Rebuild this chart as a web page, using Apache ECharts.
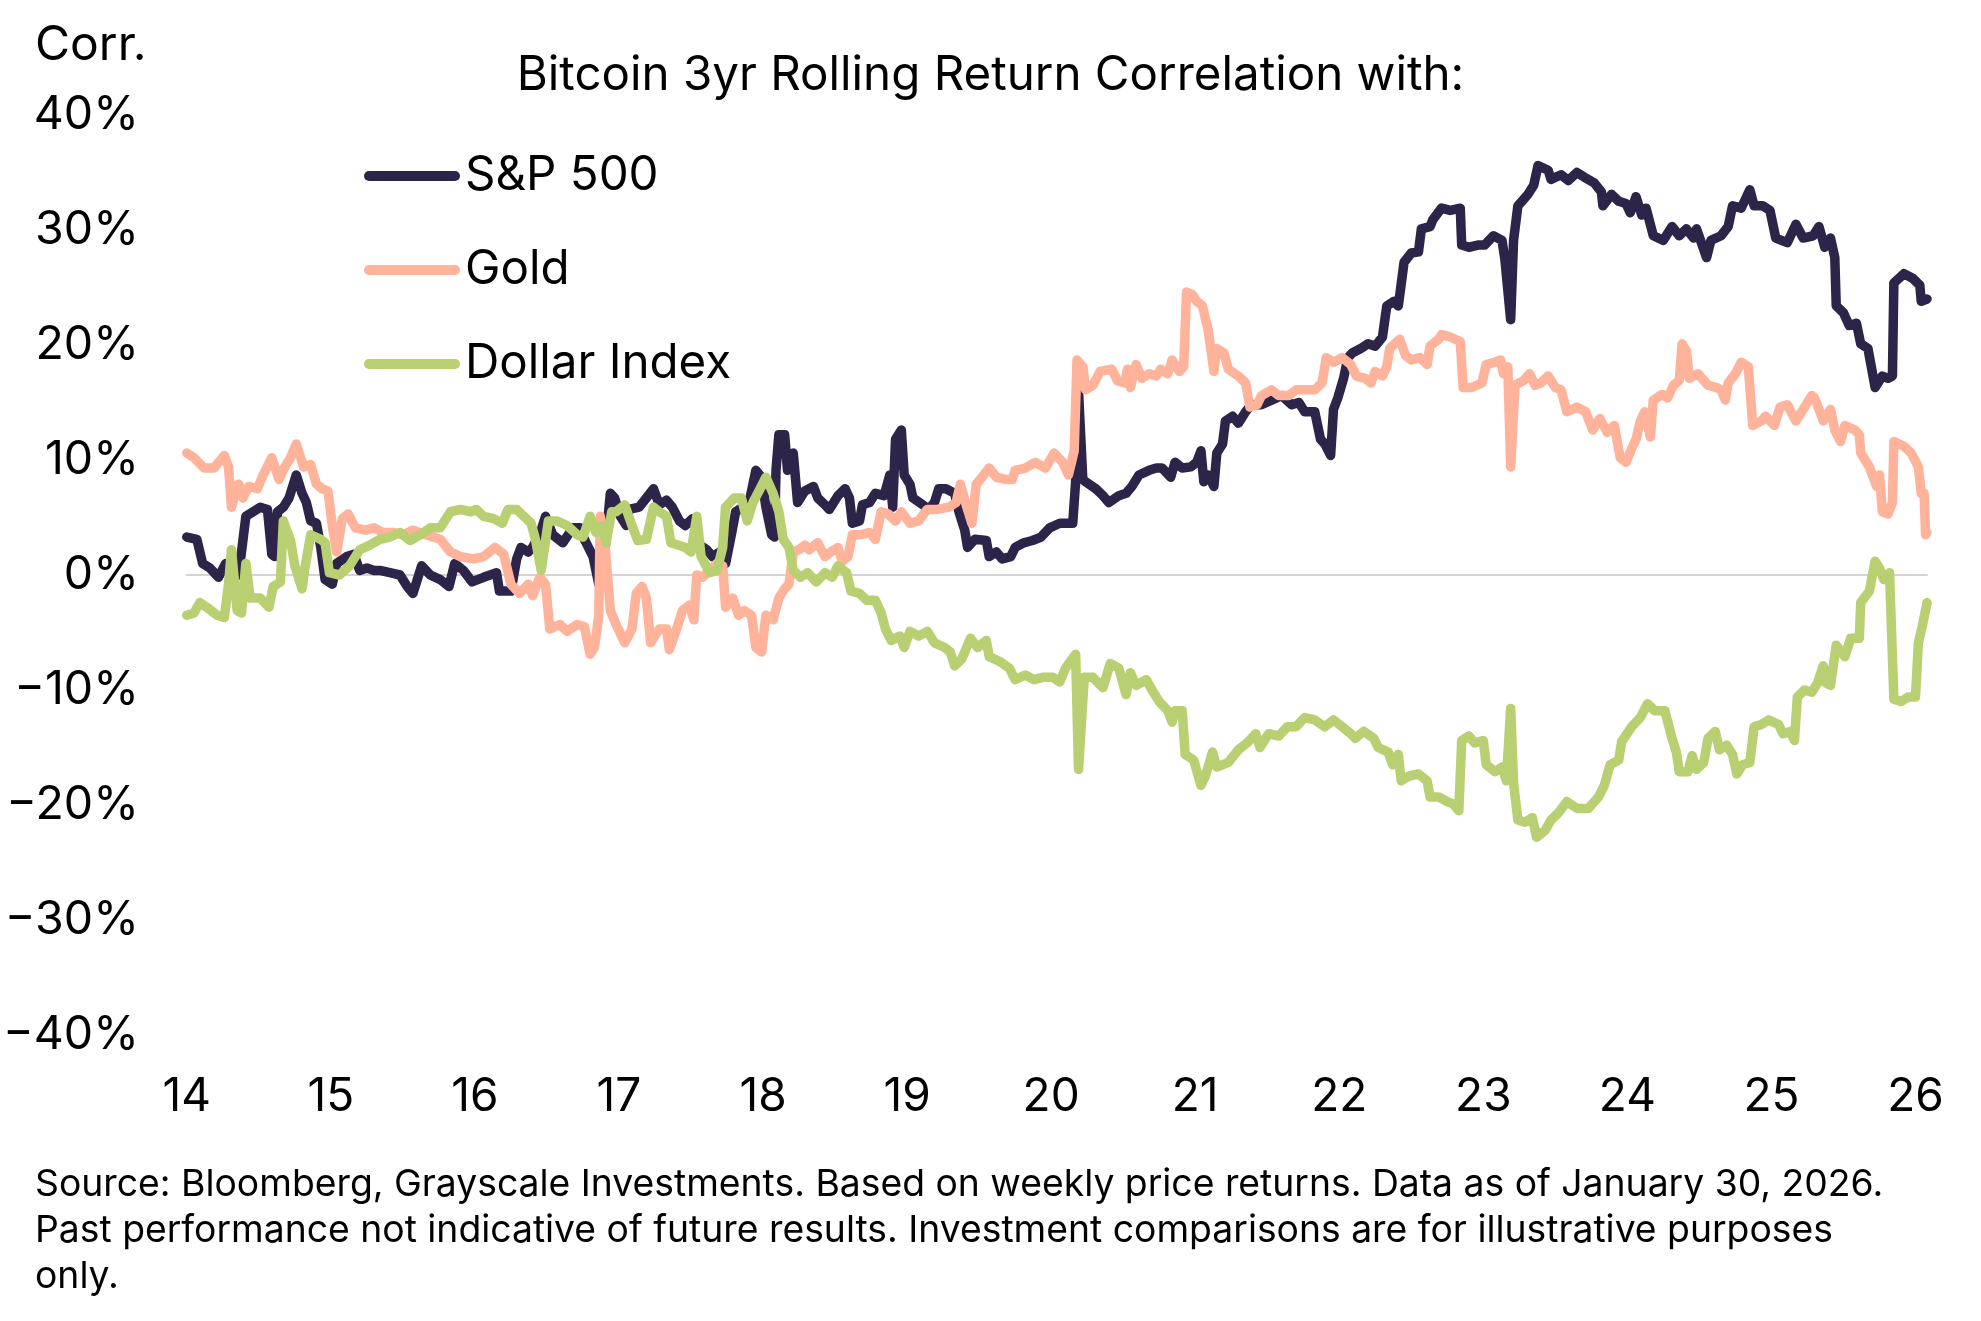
<!DOCTYPE html>
<html>
<head>
<meta charset="utf-8">
<script src="https://cdn.jsdelivr.net/npm/echarts@6.0.0/dist/echarts.min.js"></script>
<style>
  html, body { margin: 0; padding: 0; background: #fff; }
  #chart { width: 1981px; height: 1321px; }
</style>
</head>
<body>
<div id="chart"></div>
<script>
// x = year (2-digit, decimal), y = 3yr rolling correlation in %
var spxX = [14.00,14.07,14.11,14.16,14.22,14.27,14.31,14.36,14.41,14.46,14.51,14.56,14.59,14.61,14.63,14.67,14.71,14.74,14.76,14.80,14.83,14.86,14.90,14.93,14.96,15.01,15.04,15.11,15.16,15.20,15.25,15.30,15.34,15.41,15.48,15.53,15.57,15.63,15.69,15.76,15.82,15.86,15.92,15.98,
  16.06,16.15,16.17,16.25,16.29,16.32,16.37,16.40,16.45,16.49,16.54,16.61,16.68,16.73,16.76,16.82,16.86,16.89,16.94,16.97,17.01,17.05,17.07,17.14,17.19,17.24,17.28,17.33,17.37,17.42,17.46,17.51,17.56,17.61,17.65,17.70,17.74,17.78,17.81,17.86,17.91,17.95,17.99,
  18.02,18.06,18.08,18.09,18.11,18.15,18.17,18.21,18.24,18.29,18.35,18.38,18.43,18.46,18.52,18.57,18.60,18.62,18.67,18.69,18.74,18.78,18.84,18.88,18.90,18.92,18.96,18.98,19.02,19.04,19.11,19.15,19.19,19.22,19.27,19.33,19.36,19.40,19.42,19.47,19.55,19.57,19.62,19.66,19.72,19.75,19.81,19.87,19.93,19.99,
  20.06,20.15,20.17,20.19,20.22,20.24,20.31,20.36,20.40,20.47,20.52,20.56,20.61,20.68,20.73,20.77,20.83,20.86,20.91,20.97,21.01,21.04,21.06,21.09,21.13,21.15,21.19,21.21,21.26,21.30,21.35,21.39,21.46,21.53,21.60,21.67,21.72,21.76,21.83,21.87,21.90,21.94,21.96,21.99,
  22.03,22.06,22.09,22.15,22.20,22.25,22.30,22.33,22.38,22.41,22.45,22.50,22.55,22.57,22.63,22.65,22.71,22.77,22.84,22.85,22.90,22.97,23.01,23.07,23.13,23.15,23.19,23.21,23.24,23.31,23.35,23.38,23.45,23.47,23.54,23.59,23.65,23.70,23.77,23.82,23.83,23.89,23.94,23.99,
  24.02,24.06,24.10,24.13,24.18,24.25,24.31,24.36,24.41,24.46,24.48,24.55,24.58,24.65,24.70,24.73,24.79,24.85,24.88,24.94,24.99,25.03,25.11,25.17,25.22,25.29,25.33,25.37,25.41,25.44,25.45,25.50,25.54,25.59,25.62,25.67,25.72,25.77,25.81,25.84,25.85,25.92,25.98,26.03,26.04,26.08];
var spxY = [3.3,3.1,1.0,0.6,-0.2,1.0,0.4,0.0,5.1,5.5,5.9,5.7,1.8,1.6,5.5,5.9,6.7,7.9,8.7,7.1,6.3,4.7,4.5,2.4,-0.4,-0.8,1.0,1.6,1.8,0.4,0.6,0.4,0.4,0.2,0.0,-1.0,-1.6,0.8,0.0,-0.4,-1.0,1.0,0.4,-0.6,
  -0.2,0.2,-1.4,-1.4,1.4,2.4,2.0,2.4,3.5,5.1,3.5,2.8,4.1,4.1,3.1,1.6,-0.8,0.4,7.1,6.7,5.1,4.3,5.7,5.9,6.7,7.5,6.1,6.5,5.9,4.7,4.3,4.9,2.6,2.2,1.6,2.0,1.0,3.5,5.5,5.9,6.7,9.1,8.5,
  5.9,3.5,3.3,9.1,12.2,12.2,9.1,10.6,6.3,7.3,7.7,6.7,6.1,5.7,6.9,7.5,6.7,4.5,4.7,6.1,6.3,7.1,6.9,8.7,5.9,11.8,12.6,8.7,7.9,6.7,6.1,5.7,6.3,7.5,7.5,7.1,5.5,3.9,2.4,3.1,3.0,1.6,2.0,1.4,1.6,2.4,2.8,3.0,3.3,4.1,
  4.5,4.5,8.1,16.0,8.3,8.1,7.5,6.9,6.3,6.9,7.1,7.7,8.7,9.1,9.3,9.3,8.5,9.8,9.3,9.4,9.8,10.8,8.1,8.7,7.7,10.6,11.4,13.4,13.8,13.2,14.2,14.8,14.8,15.2,15.6,14.8,15.0,14.2,14.2,11.8,11.4,10.4,14.4,15.4,
  17.1,18.9,19.3,19.7,20.1,19.9,20.7,23.4,23.8,23.4,27.2,28.0,28.1,30.1,30.3,30.9,31.9,31.7,31.9,28.7,28.5,28.7,28.7,29.5,29.1,27.4,22.2,29.1,32.1,33.1,33.9,35.6,35.2,34.4,34.8,34.3,35.0,34.6,34.1,33.3,32.1,33.1,32.5,32.3,
  31.5,32.9,31.3,31.9,29.5,29.1,30.3,29.5,30.1,29.3,30.1,27.6,29.1,29.5,30.3,32.1,31.9,33.5,32.1,32.1,31.7,29.3,28.9,30.5,29.3,29.5,30.3,28.5,29.3,27.6,23.4,22.8,21.7,21.9,20.1,19.7,16.3,17.3,17.1,17.3,25.4,26.2,25.8,25.2,23.8,24.0];

var goldX = [14.00,14.05,14.12,14.19,14.26,14.29,14.31,14.36,14.39,14.43,14.49,14.53,14.59,14.64,14.68,14.72,14.76,14.81,14.86,14.90,14.94,14.98,15.01,15.04,15.08,15.12,15.17,15.24,15.30,15.36,15.43,15.50,15.57,15.66,15.76,15.83,15.90,15.99,
  16.06,16.14,16.20,16.25,16.31,16.37,16.40,16.45,16.49,16.52,16.59,16.64,16.71,16.76,16.80,16.83,16.86,16.87,16.90,16.94,16.98,17.04,17.09,17.12,17.16,17.19,17.22,17.28,17.33,17.35,17.40,17.44,17.49,17.52,17.54,17.58,17.63,17.68,17.72,17.74,17.79,17.83,17.87,17.92,17.95,17.99,
  18.02,18.07,18.11,18.15,18.18,18.21,18.25,18.29,18.32,18.38,18.43,18.47,18.52,18.55,18.59,18.62,18.68,18.74,18.78,18.82,18.87,18.92,18.96,19.02,19.08,19.14,19.21,19.29,19.34,19.37,19.41,19.45,19.48,19.52,19.57,19.62,19.69,19.73,19.75,19.82,19.89,19.96,
  20.02,20.08,20.12,20.16,20.18,20.22,20.24,20.29,20.34,20.42,20.46,20.51,20.53,20.55,20.59,20.63,20.68,20.73,20.76,20.81,20.84,20.89,20.92,20.94,20.98,21.01,21.05,21.09,21.13,21.15,21.20,21.23,21.30,21.35,21.38,21.43,21.46,21.53,21.58,21.65,21.70,21.76,21.83,21.88,21.91,21.96,
  22.02,22.08,22.12,22.18,22.22,22.25,22.30,22.33,22.35,22.42,22.46,22.50,22.56,22.61,22.63,22.69,22.71,22.77,22.84,22.86,22.92,22.99,23.02,23.08,23.12,23.14,23.17,23.19,23.22,23.28,23.32,23.36,23.40,23.45,23.50,23.54,23.58,23.65,23.71,23.76,23.81,23.86,23.91,23.95,23.99,
  24.03,24.06,24.09,24.12,24.16,24.18,24.24,24.28,24.32,24.36,24.38,24.41,24.43,24.49,24.56,24.62,24.65,24.68,24.70,24.75,24.79,24.84,24.87,24.93,24.96,25.02,25.06,25.11,25.17,25.22,25.28,25.30,25.36,25.41,25.44,25.48,25.51,25.58,25.61,25.62,25.68,25.73,25.75,25.77,25.81,25.84,25.85,25.92,25.97,26.02,26.04,26.06,26.07,26.08];
var goldY = [10.6,10.2,9.3,9.3,10.4,9.4,5.9,7.9,6.7,7.7,7.5,8.7,10.2,8.3,9.4,10.2,11.4,9.4,9.6,7.9,7.5,7.3,4.3,2.0,4.9,5.3,4.1,3.9,4.1,3.7,3.7,3.5,3.9,3.5,3.1,2.0,1.6,1.4,
  1.6,2.4,1.8,-0.8,-1.6,-0.8,-1.8,-0.2,-0.8,-4.7,-4.3,-4.9,-4.3,-4.5,-6.9,-6.3,-3.5,5.1,3.1,-3.1,-4.3,-5.9,-4.7,-1.6,-1.0,-2.0,-5.9,-4.7,-4.7,-6.5,-4.7,-3.1,-2.6,-3.9,0.0,-0.2,0.4,1.0,0.8,-2.8,-2.0,-3.5,-3.1,-3.5,-6.3,-6.7,
  -3.5,-3.9,-2.0,-1.2,-0.8,2.0,2.2,2.6,2.2,2.8,1.6,2.0,2.4,1.2,1.6,3.5,3.5,3.7,3.1,5.5,5.3,4.7,5.5,4.5,4.7,5.7,5.7,5.9,6.3,7.9,6.1,4.5,7.9,8.5,9.3,8.5,8.3,8.3,9.1,9.3,9.8,9.3,
  10.6,9.8,8.7,10.8,18.7,18.1,16.1,16.5,17.7,17.9,16.9,16.7,17.9,16.3,18.3,17.1,17.5,17.3,17.9,17.5,18.7,17.7,18.1,24.6,24.4,23.8,23.4,21.3,17.7,19.7,19.3,17.9,17.3,16.7,14.6,14.8,15.6,16.1,15.6,15.6,16.1,16.1,16.1,16.7,18.9,18.5,
  18.9,18.3,17.3,17.1,16.7,17.7,17.3,18.1,19.7,20.5,19.1,18.7,18.9,18.3,19.9,20.5,20.9,20.7,20.3,16.3,16.3,16.7,18.3,18.5,18.7,17.5,18.1,9.4,16.5,16.9,17.5,16.5,16.7,17.3,16.3,16.1,14.2,14.6,14.2,12.6,13.6,12.4,13.0,10.2,9.8,
  11.0,11.8,13.4,14.2,12.0,15.2,15.7,15.4,16.5,16.9,20.1,19.5,17.1,17.5,16.5,16.3,16.1,15.2,16.7,17.5,18.5,18.1,13.0,13.4,13.8,13.0,14.6,14.8,13.4,14.4,15.6,15.4,13.4,14.4,12.6,11.6,13.0,12.6,12.2,10.6,9.4,7.7,8.7,5.5,5.3,6.3,11.6,11.2,10.6,9.4,7.1,7.1,3.5,3.7];

var dxyX = [14.00,14.05,14.09,14.16,14.21,14.26,14.29,14.31,14.35,14.38,14.41,14.44,14.51,14.57,14.60,14.65,14.67,14.72,14.75,14.80,14.82,14.86,14.93,14.96,14.99,15.06,15.13,15.20,15.27,15.34,15.41,15.48,15.55,15.62,15.69,15.76,15.83,15.90,15.97,
  16.01,16.06,16.13,16.19,16.23,16.29,16.34,16.39,16.42,16.46,16.51,16.57,16.64,16.71,16.75,16.80,16.84,16.88,16.91,16.95,16.98,17.04,17.09,17.13,17.19,17.24,17.28,17.33,17.36,17.41,17.46,17.50,17.54,17.57,17.63,17.68,17.72,17.74,17.80,17.85,17.89,17.93,17.98,
  18.02,18.07,18.11,18.14,18.18,18.21,18.26,18.31,18.37,18.43,18.48,18.52,18.58,18.61,18.67,18.72,18.78,18.82,18.85,18.89,18.95,18.98,19.02,19.08,19.14,19.19,19.26,19.30,19.33,19.38,19.44,19.49,19.55,19.57,19.64,19.71,19.75,19.82,19.88,19.94,
  20.01,20.06,20.10,20.17,20.19,20.23,20.29,20.36,20.41,20.47,20.52,20.55,20.59,20.66,20.70,20.75,20.81,20.84,20.86,20.91,20.93,20.99,21.04,21.07,21.12,21.15,21.23,21.30,21.36,21.42,21.45,21.51,21.58,21.64,21.70,21.76,21.83,21.90,21.96,
  22.02,22.08,22.11,22.17,22.24,22.27,22.34,22.37,22.41,22.43,22.48,22.55,22.61,22.63,22.69,22.75,22.79,22.83,22.85,22.90,22.94,23.00,23.02,23.08,23.13,23.16,23.19,23.21,23.24,23.29,23.34,23.37,23.43,23.47,23.52,23.58,23.65,23.73,23.80,23.84,23.88,23.94,23.96,
  24.03,24.09,24.14,24.19,24.26,24.31,24.34,24.36,24.42,24.45,24.48,24.53,24.56,24.61,24.64,24.69,24.73,24.76,24.80,24.85,24.88,24.93,24.98,25.05,25.08,25.13,25.16,25.18,25.23,25.28,25.32,25.36,25.38,25.41,25.45,25.51,25.55,25.61,25.62,25.68,25.72,25.75,25.78,25.82,25.85,25.90,25.95,26.00,26.02,26.05,26.08];
var dxyY = [-3.5,-3.3,-2.4,-3.0,-3.5,-3.7,-0.8,2.2,-3.1,-3.3,1.0,-2.0,-2.0,-2.8,-1.0,-0.6,4.7,3.0,0.8,-1.2,0.6,3.5,3.1,2.8,0.2,0.0,0.8,2.2,2.6,3.1,3.3,3.7,3.0,3.5,4.1,4.1,5.5,5.7,5.5,
  5.7,5.1,4.9,4.5,5.7,5.7,5.1,4.5,3.1,0.4,4.7,4.7,4.3,3.5,3.3,5.1,3.7,4.3,2.8,5.5,5.5,6.1,4.3,3.0,3.1,5.9,5.5,5.1,2.8,2.6,2.4,2.0,5.1,1.6,0.2,0.4,2.4,5.9,6.7,6.7,4.7,6.3,7.5,
  8.5,7.1,5.5,3.1,2.4,0.4,-0.2,0.2,-0.6,0.2,-0.2,0.8,0.2,-1.4,-1.6,-2.2,-2.2,-3.3,-4.7,-5.7,-5.3,-6.3,-4.9,-5.3,-4.9,-5.9,-6.3,-6.7,-7.9,-7.3,-5.5,-6.3,-5.7,-7.1,-7.5,-8.1,-9.1,-8.7,-9.1,-8.9,
  -8.9,-9.3,-8.1,-6.9,-16.9,-8.9,-8.9,-9.8,-7.7,-8.1,-10.4,-8.5,-9.6,-9.1,-10.0,-11.0,-11.8,-12.8,-11.8,-11.8,-15.6,-16.1,-18.3,-17.5,-15.4,-16.7,-16.3,-15.2,-14.6,-13.8,-15.0,-13.8,-14.0,-13.2,-13.2,-12.4,-12.6,-13.2,-12.6,
  -13.2,-13.8,-14.2,-13.6,-14.2,-15.0,-15.4,-16.5,-15.6,-17.9,-17.5,-17.3,-17.9,-19.3,-19.3,-19.7,-19.9,-20.5,-14.4,-14.0,-14.6,-14.4,-16.5,-17.1,-16.7,-17.9,-11.6,-18.1,-21.3,-21.5,-21.1,-22.8,-22.2,-21.3,-20.7,-19.7,-20.3,-20.3,-19.3,-18.3,-16.5,-16.1,-14.5,
  -13.2,-12.4,-11.2,-11.8,-11.8,-14.2,-15.4,-17.1,-17.1,-15.7,-16.9,-16.3,-14.2,-13.6,-15.2,-14.8,-15.6,-17.3,-16.5,-16.3,-13.2,-13.0,-12.6,-13.0,-13.8,-13.6,-14.4,-10.6,-10.0,-10.2,-9.4,-7.9,-9.4,-9.6,-6.1,-7.1,-5.5,-5.5,-2.4,-1.4,1.2,0.6,-0.4,0.2,-10.8,-11.0,-10.6,-10.6,-5.9,-4.3,-2.4];

var seriesNames = ['S&P 500', 'Gold', 'Dollar Index'];
var seriesColors = ['#2d2449', '#ffb39b', '#b8cf72'];
var yearTicks = [14, 15, 16, 17, 18, 19, 20, 21, 22, 23, 24, 25, 26];

var FONT = 'Inter';

function pairs(xs, ys) {
  return xs.map(function (x, i) { return [x, ys[i]]; });
}

var chart = echarts.init(document.getElementById('chart'), null, { renderer: 'canvas' });

function lineSeries(idx, data) {
  return {
    name: seriesNames[idx],
    type: 'line',
    xAxisIndex: 0,
    data: data,
    showSymbol: false,
    symbol: 'none',
    animation: false,
    lineStyle: { width: 9.5, color: seriesColors[idx], cap: 'round', join: 'round' },
    itemStyle: { color: seriesColors[idx] }
  };
}

var option = {
  backgroundColor: '#fff',
  animation: false,
  title: {
    text: 'Bitcoin 3yr Rolling Return Correlation with:',
    left: 'center',
    top: 51,
    padding: 0,
    textStyle: { fontFamily: FONT, fontSize: 47.5, fontWeight: 'normal', color: '#000', lineHeight: 50 }
  },
  legend: {
    orient: 'vertical',
    left: 364,
    top: 151,
    padding: 0,
    itemGap: 44,
    itemWidth: 96,
    itemHeight: 10,
    icon: 'path://M5,0 H91 A5,5 0 0 1 91,10 H5 A5,5 0 0 1 5,0 Z',
    data: seriesNames,
    textStyle: { fontFamily: FONT, fontSize: 47.5, color: '#000', lineHeight: 50 }
  },
  grid: { left: 183, right: 54, top: 115, bottom: 286, containLabel: false },
  xAxis: [{
    type: 'value',
    min: 14,
    max: 26.08,
    interval: 1,
    axisLine: { show: true, onZero: true, lineStyle: { color: '#d4d4d4', width: 2 } },
    axisTick: { show: false },
    axisLabel: { show: false },
    splitLine: { show: false }
  }, {
    type: 'value',
    position: 'bottom',
    min: 14,
    max: 26.08,
    interval: 1,
    axisLine: { show: false, onZero: false },
    axisTick: { show: false },
    splitLine: { show: false },
    axisLabel: {
      margin: 39,
      fontFamily: FONT,
      fontSize: 46,
      color: '#000',
      formatter: function (v) { return yearTicks.indexOf(v) >= 0 ? String(v) : ''; }
    }
  }],
  yAxis: {
    type: 'value',
    min: -40,
    max: 40,
    interval: 10,
    axisLine: { show: false },
    axisTick: { show: false },
    splitLine: { show: false },
    axisLabel: {
      margin: 48,
      fontFamily: FONT,
      fontSize: 46.5,
      color: '#000',
      formatter: function (v) { return (v < 0 ? '\u2212' + Math.abs(v) : v) + '%'; }
    }
  },
  graphic: [{
    type: 'text',
    left: 35,
    top: 22,
    style: { text: 'Corr.', fontFamily: FONT, fontSize: 48, fill: '#000' }
  }, {
    type: 'text',
    left: 35,
    top: 1162,
    style: {
      text: 'Source: Bloomberg, Grayscale Investments. Based on weekly price returns. Data as of January 30, 2026.\n' +
            'Past performance not indicative of future results. Investment comparisons are for illustrative purposes\n' +
            'only.',
      fontFamily: FONT, fontSize: 37.3, lineHeight: 46, fill: '#000'
    }
  }],
  series: [
    lineSeries(0, pairs(spxX, spxY)),
    lineSeries(1, pairs(goldX, goldY)),
    lineSeries(2, pairs(dxyX, dxyY))
  ]
};

chart.setOption(option);
</script>
</body>
</html>
